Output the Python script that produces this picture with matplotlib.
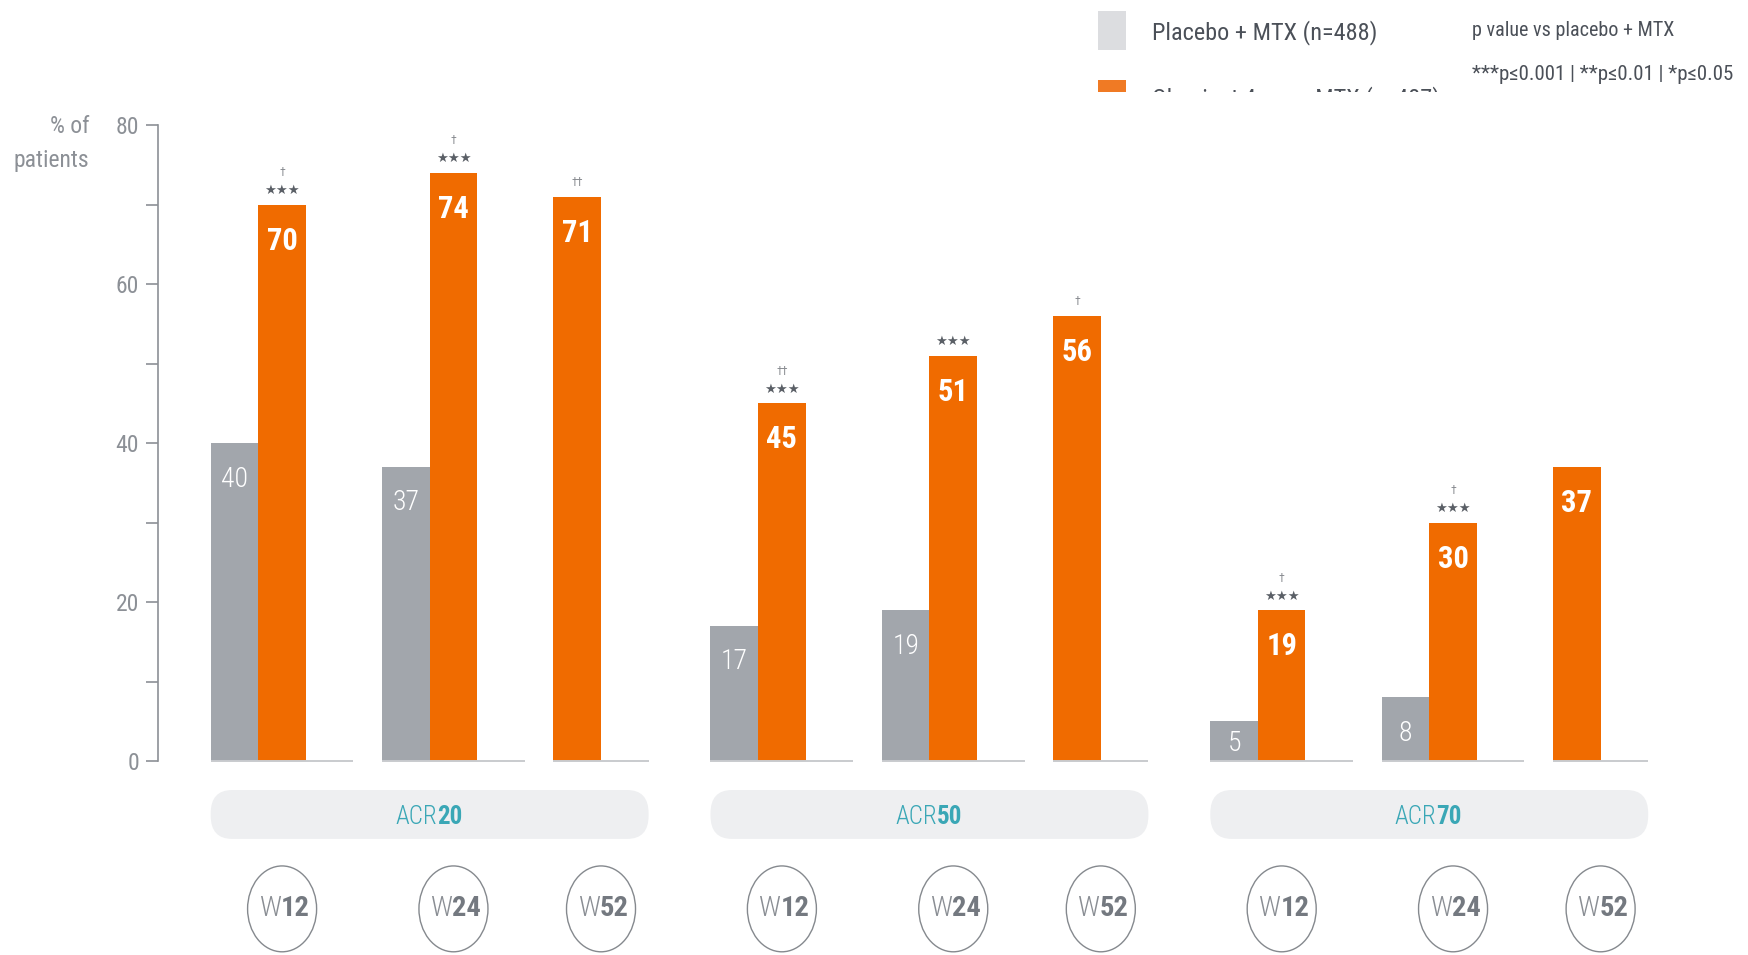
import matplotlib
matplotlib.use("Agg")
import matplotlib.pyplot as plt
from matplotlib import font_manager
from matplotlib.patches import FancyBboxPatch, Ellipse, Rectangle

# ----------------------------------------------------------------------
# data
groups = ["20", "50", "70"]
weeks = ["12", "24", "52"]
placebo = [[40, 37, None], [17, 19, None], [5, 8, None]]
olumiant = [[70, 74, 71], [45, 51, 56], [19, 30, 37]]
stars = [["***", "***", ""], ["***", "***", ""], ["***", "***", ""]]
daggers = [["†", "†", "††"], ["††", "", "†"], ["†", "†", ""]]
yticks_major = [0, 20, 40, 60, 80]
yticks_minor = [10, 30, 50, 70]
legend_labels = ["Placebo + MTX (n=488)", "Olumiant 4 mg + MTX (n=487)"]
pvalue_title = "p value vs placebo + MTX"
pvalue_text = "***p≤0.001 | **p≤0.01 | *p≤0.05"

# colours
GRAY_BAR = "#a2a6ac"
ORANGE = "#f06b00"
TEAL = "#3aa7b6"
AXIS = "#8c9096"
DARK = "#4b5058"
PILL = "#eeeff1"

# narrowest face that is installed
names = {f.name for f in font_manager.fontManager.ttflist}
MAIN = next(n for n in ["Liberation Sans Narrow", "Roboto Condensed", "Roboto", "DejaVu Sans"]
            if n in names)
plt.rcParams["font.family"] = [MAIN, "DejaVu Sans"]

W, H = 1748, 955
fig = plt.figure(figsize=(W / 100, H / 100), dpi=100)
ax = fig.add_axes([158 / W, (H - 761) / H, (W - 158) / W, (761 - 125) / H])

slot_step = 3.6
group_step = 10.5
ax.set_xlim(-1.107, -1.107 + (W - 158) / 47.6)
ax.set_ylim(0, 80)

pt_per_unit = (761 - 125) / 80 * 0.72

for g, grp in enumerate(groups):
    g_start = g * group_step
    g_end = g_start
    for k, wk in enumerate(weeks):
        s = g_start + k * slot_step
        p = placebo[g][k]
        o = olumiant[g][k]
        if p is not None:
            ax.bar(s, p, width=1, align="edge", color=GRAY_BAR, zorder=2)
            off = min(26, 0.56 * p * pt_per_unit)
            ax.annotate(str(p), xy=(s + 0.5, p), xytext=(0, -off), textcoords="offset points",
                        ha="center", va="center", color="white", fontsize=20, fontweight="light")
            ox = s + 1
            base_w = 3
        else:
            ox = s
            base_w = 2
        ax.bar(ox, o, width=1, align="edge", color=ORANGE, zorder=2)
        ax.annotate(str(o), xy=(ox + 0.5, o), xytext=(0, -26), textcoords="offset points",
                    ha="center", va="center", color="white", fontsize=22, fontweight="bold")
        # significance marks
        mark_y = 10
        if stars[g][k]:
            ax.annotate("★★★", xy=(ox + 0.5, o), xytext=(0, 10), textcoords="offset points",
                        ha="center", va="center", color="#5a5f66", fontsize=9.5,
                        family="DejaVu Sans")
            mark_y = 23
        if daggers[g][k]:
            ax.annotate(daggers[g][k], xy=(ox + 0.5, o), xytext=(0, mark_y), textcoords="offset points",
                        ha="center", va="center", color="#8a8d92", fontsize=8.5)
        # baseline under the slot
        ax.plot([s, s + base_w], [0, 0], color="#c9cbce", lw=1.4, zorder=3, clip_on=False,
                solid_capstyle="butt")
        g_end = s + base_w
        # week badge
        cx = s + base_w / 2
        ax.add_patch(Ellipse((cx, -18.6), 1.45, 10.8, facecolor="white", edgecolor="#85898e",
                             lw=1.0, clip_on=False, zorder=2))
        ax.text(cx - 0.03, -18.6, "W", ha="right", va="center", color="#8a8e94", fontsize=20.5,
                fontweight="light", clip_on=False)
        ax.text(cx - 0.03, -18.6, wk, ha="left", va="center", color="#747980", fontsize=20.5,
                fontweight="bold", clip_on=False)
    # group pill
    ax.add_patch(FancyBboxPatch((g_start, -9.8), g_end - g_start, 6.15,
                                boxstyle="round,pad=0,rounding_size=0.45", mutation_aspect=6.5,
                                facecolor=PILL, edgecolor="none", clip_on=False, zorder=1))
    pc = (g_start + g_end) / 2 + 0.15
    ax.text(pc, -7.0, "ACR", ha="right", va="center", color=TEAL, fontsize=18,
            fontweight="light", clip_on=False)
    ax.text(pc, -7.0, grp, ha="left", va="center", color=TEAL, fontsize=18,
            fontweight="bold", clip_on=False)

# axis styling
for side in ["top", "right", "bottom"]:
    ax.spines[side].set_visible(False)
ax.spines["left"].set_color(AXIS)
ax.spines["left"].set_linewidth(1.2)
ax.spines["left"].set_bounds(0, 80)
ax.set_yticks(yticks_major)
ax.set_yticks(yticks_minor, minor=True)
ax.tick_params(axis="y", which="both", direction="out", length=8.5, width=1.2, color=AXIS)
ax.tick_params(axis="y", which="major", labelsize=17, labelcolor=AXIS, pad=5)
ax.set_xticks([])

fig.text(89 / W, 1 - 115 / H, "% of\npatients", ha="right", va="top", color=AXIS,
         fontsize=17, linespacing=1.6, multialignment="right")

# legend, cut off at the top as in the reference
fig.add_artist(Rectangle((1098 / W, 1 - 50 / H), 28 / W, 39 / H, transform=fig.transFigure,
                         facecolor="#dcdde0", edgecolor="none"))
fig.add_artist(Rectangle((1098 / W, 1 - 119 / H), 28 / W, 39 / H, transform=fig.transFigure,
                         facecolor="#f07a24", edgecolor="none"))
fig.text(1152 / W, 1 - 33 / H, legend_labels[0], ha="left", va="center", color=DARK, fontsize=17.5)
fig.text(1152 / W, 1 - 99 / H, legend_labels[1], ha="left", va="center", color=DARK, fontsize=17.5)
fig.add_artist(Rectangle((1050 / W, 1 - 122 / H), (W - 1050) / W, 30.5 / H, transform=fig.transFigure,
                         facecolor="white", edgecolor="none", zorder=10))
fig.text(1472 / W, 1 - 31 / H, pvalue_title, ha="left", va="center", color=DARK, fontsize=14.5)
fig.text(1472 / W, 1 - 74 / H, pvalue_text, ha="left", va="center", color=DARK, fontsize=15,
         family=[MAIN, "DejaVu Sans"])

fig.savefig("out.png", dpi=100, facecolor="white")
